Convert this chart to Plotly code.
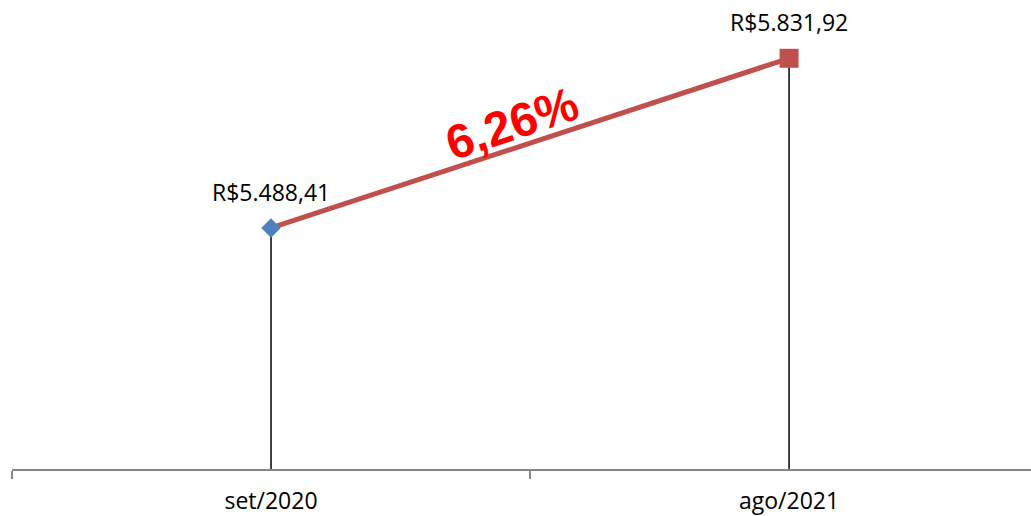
import plotly.graph_objects as go

categories = ["set/2020", "ago/2021"]
values = [5488.41, 5831.92]
value_labels = ["R$5.488,41", "R$5.831,92"]
change_label = "6,26%"

fig = go.Figure()

# drop lines from each point to the axis
for c, v in zip(categories, values):
    fig.add_trace(go.Scatter(x=[c, c], y=[5000, v], mode="lines",
                             line=dict(color="black", width=1.5),
                             hoverinfo="skip", showlegend=False))

# connecting line
fig.add_trace(go.Scatter(x=categories, y=values, mode="lines",
                         line=dict(color="#C0504D", width=5),
                         showlegend=False))

# markers
fig.add_trace(go.Scatter(x=[categories[0]], y=[values[0]], mode="markers",
                         marker=dict(symbol="diamond", size=15, color="#4F81BD"),
                         showlegend=False))
fig.add_trace(go.Scatter(x=[categories[1]], y=[values[1]], mode="markers",
                         marker=dict(symbol="square", size=19, color="#C0504D"),
                         showlegend=False))

for c, v, t in zip(categories, values, value_labels):
    fig.add_annotation(x=c, y=v, text=t, showarrow=False, yshift=36,
                       font=dict(family="Open Sans", size=23, color="black"))

fig.add_annotation(x=0.465, y=5700, text="<b>" + change_label + "</b>", showarrow=False,
                   textangle=-18.5,
                   font=dict(family="Liberation Sans", size=48, color="#FF0000"))

fig.update_layout(
    width=1031, height=516,
    margin=dict(l=12, r=0, t=0, b=47),
    paper_bgcolor="white", plot_bgcolor="white",
    xaxis=dict(type="category", range=[-0.5, 1.467], tickson="boundaries",
               showline=True, linecolor="#868686", linewidth=1.5,
               ticks="outside", ticklen=8, tickcolor="#868686", tickwidth=1.5,
               ticklabelstandoff=11,
               showgrid=False, zeroline=False,
               tickfont=dict(family="Open Sans", size=23, color="black")),
    yaxis=dict(range=[5000, 5950], visible=False, showgrid=False, zeroline=False),
)

fig.write_html("out.html", config={"displayModeBar": False},
               post_script="document.body.style.margin='0';")
